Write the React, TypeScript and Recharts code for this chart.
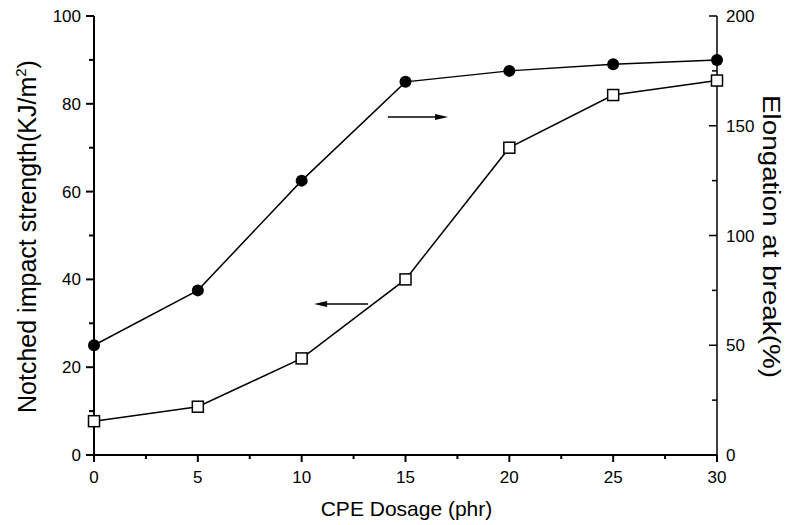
import React from 'react';
import { LineChart, Line, XAxis, YAxis, ReferenceLine } from 'recharts';

const dosage = [0, 5, 10, 15, 20, 25, 30];
const impactStrength = [7.7, 11, 22, 40, 70, 82, 85.3];
const elongation = [50, 75, 125, 170, 175, 178, 180];

const xTicks = [0, 2.5, 5, 7.5, 10, 12.5, 15, 17.5, 20, 22.5, 25, 27.5, 30];
const leftTicks = [0, 10, 20, 30, 40, 50, 60, 70, 80, 90, 100];
const rightTicks = [0, 25, 50, 75, 100, 125, 150, 175, 200];

// arrows pointing at the axis each curve belongs to
const elongArrow = { y: 77, from: 14.15, to: 17.05 };
const impactArrow = { y: 34.4, from: 13.2, to: 10.6 };

const data = dosage.map((d, i) => ({
  dosage: d,
  impact: impactStrength[i],
  elong: elongation[i],
}));

const FONT = '"Liberation Sans", Arial, sans-serif';

const BottomTick = (props: any) => {
  const { x, y, payload } = props;
  const v = payload.value;
  const major = v % 5 === 0;
  return (
    <g>
      <line x1={x} y1={y} x2={x} y2={y + (major ? 7 : 4)} stroke="#000" strokeWidth={2} />
      {major && (
        <text x={x} y={y + 28} textAnchor="middle" fontSize={17} fontFamily={FONT} fill="#000">
          {v}
        </text>
      )}
    </g>
  );
};

const TopTick = (props: any) => {
  const { x, y, payload } = props;
  const major = payload.value % 5 === 0;
  return <line x1={x} y1={y} x2={x} y2={y + (major ? 7 : 4)} stroke="#000" strokeWidth={1.5} />;
};

const LeftTick = (props: any) => {
  const { x, y, payload } = props;
  const v = payload.value;
  const major = v % 20 === 0;
  return (
    <g>
      <line x1={x} y1={y} x2={x - (major ? 8 : 5)} y2={y} stroke="#000" strokeWidth={2} />
      {major && (
        <text x={x - 13} y={y + 6} textAnchor="end" fontSize={17} fontFamily={FONT} fill="#000">
          {v}
        </text>
      )}
    </g>
  );
};

const RightTick = (props: any) => {
  const { x, y, payload } = props;
  const v = payload.value;
  const major = v % 50 === 0;
  return (
    <g>
      <line x1={x} y1={y} x2={x - (major ? 8 : 5)} y2={y} stroke="#000" strokeWidth={1.5} />
      {major && (
        <text x={x + 9} y={y + 6} textAnchor="start" fontSize={17} fontFamily={FONT} fill="#000">
          {v}
        </text>
      )}
    </g>
  );
};

const SquareDot = (props: any) => {
  const { cx, cy } = props;
  if (cx == null || cy == null) return null;
  return <rect x={cx - 5.5} y={cy - 5.5} width={11} height={11} fill="#fff" stroke="#000" strokeWidth={1.5} />;
};

const CircleDot = (props: any) => {
  const { cx, cy } = props;
  if (cx == null || cy == null) return null;
  return <circle cx={cx} cy={cy} r={6} fill="#000" />;
};

const Arrow = (props: any) => {
  const { x1, y1, x2, y2 } = props;
  const dir = Math.sign(x2 - x1);
  return (
    <g>
      <line x1={x1} y1={y1} x2={x2 - dir * 10} y2={y2} stroke="#000" strokeWidth={1.5} />
      <polygon points={`${x2},${y2} ${x2 - dir * 13},${y2 - 3} ${x2 - dir * 13},${y2 + 3}`} fill="#000" />
    </g>
  );
};

const LeftLabel = (props: any) => {
  const { viewBox } = props;
  const cx = 36;
  const cy = viewBox.y + viewBox.height / 2 + 1;
  return (
    <text
      x={cx}
      y={cy}
      transform={`rotate(-90, ${cx}, ${cy})`}
      textAnchor="middle"
      fontSize={25}
      fontFamily={FONT}
      fill="#000"
    >
      <tspan>Notched impact strength(KJ/m</tspan>
      <tspan dy={-10} fontSize={15}>2</tspan>
      <tspan dy={10}>)</tspan>
    </text>
  );
};

const RightLabel = (props: any) => {
  const { viewBox } = props;
  const cx = 763;
  const cy = viewBox.y + viewBox.height / 2 + 1;
  return (
    <text
      x={cx}
      y={cy}
      transform={`rotate(90, ${cx}, ${cy})`}
      textAnchor="middle"
      fontSize={23}
      textLength={283}
      lengthAdjust="spacingAndGlyphs"
      fontFamily={FONT}
      fill="#000"
    >
      Elongation at break(%)
    </text>
  );
};

const BottomLabel = (props: any) => {
  const { viewBox } = props;
  const cx = viewBox.x + viewBox.width / 2 + 1;
  return (
    <text x={cx} y={516} textAnchor="middle" fontSize={21} fontFamily={FONT} fill="#000">
      CPE Dosage (phr)
    </text>
  );
};

export default function App() {
  return (
    <div style={{ position: 'absolute', left: 0, top: 0, width: 786, height: 525, background: '#fff' }}>
      <LineChart width={786} height={525} data={data} margin={{ top: 16, right: 0, bottom: 0, left: 0 }}>
        <XAxis
          dataKey="dosage"
          type="number"
          domain={[0, 30]}
          ticks={xTicks}
          interval={0}
          height={70}
          tickSize={0}
          tickMargin={0}
          tickLine={false}
          axisLine={{ stroke: '#000', strokeWidth: 2 }}
          tick={<BottomTick />}
          label={<BottomLabel />}
        />
        <XAxis
          xAxisId="top"
          orientation="top"
          dataKey="dosage"
          type="number"
          domain={[0, 30]}
          ticks={xTicks}
          interval={0}
          height={0}
          tickSize={0}
          tickMargin={0}
          tickLine={false}
          axisLine={{ stroke: '#000', strokeWidth: 1.5 }}
          tick={<TopTick />}
        />
        <YAxis
          yAxisId="left"
          type="number"
          domain={[0, 100]}
          ticks={leftTicks}
          interval={0}
          width={94}
          tickSize={0}
          tickMargin={0}
          tickLine={false}
          axisLine={{ stroke: '#000', strokeWidth: 2 }}
          tick={<LeftTick />}
          label={<LeftLabel />}
        />
        <YAxis
          yAxisId="right"
          orientation="right"
          type="number"
          domain={[0, 200]}
          ticks={rightTicks}
          interval={0}
          width={69}
          tickSize={0}
          tickMargin={0}
          tickLine={false}
          axisLine={{ stroke: '#000', strokeWidth: 1.5 }}
          tick={<RightTick />}
          label={<RightLabel />}
        />
        <Line
          yAxisId="left"
          dataKey="impact"
          stroke="#000"
          strokeWidth={1.5}
          dot={<SquareDot />}
          activeDot={false}
          isAnimationActive={false}
        />
        <Line
          yAxisId="right"
          dataKey="elong"
          stroke="#000"
          strokeWidth={1.5}
          dot={<CircleDot />}
          activeDot={false}
          isAnimationActive={false}
        />
        <ReferenceLine
          yAxisId="left"
          segment={[
            { x: elongArrow.from, y: elongArrow.y },
            { x: elongArrow.to, y: elongArrow.y },
          ]}
          shape={<Arrow />}
        />
        <ReferenceLine
          yAxisId="left"
          segment={[
            { x: impactArrow.from, y: impactArrow.y },
            { x: impactArrow.to, y: impactArrow.y },
          ]}
          shape={<Arrow />}
        />
      </LineChart>
    </div>
  );
}
